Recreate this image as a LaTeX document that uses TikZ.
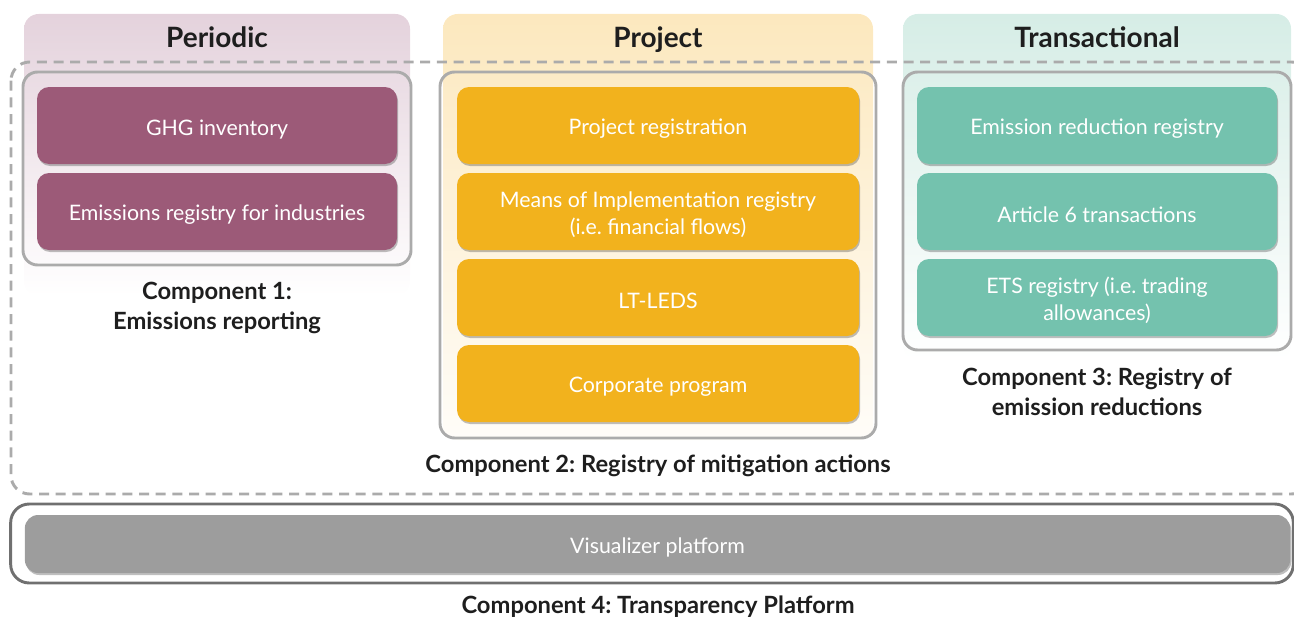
\documentclass[tikz,border=0pt]{standalone}
\usepackage{fontspec}
\setmainfont{Lato}
\frenchspacing
\usetikzlibrary{shadows}
\definecolor{plum}{HTML}{9C5A78}
\definecolor{amber}{HTML}{F2B21D}
\definecolor{teal}{HTML}{74C2AE}
\definecolor{vgray}{HTML}{9D9D9D}
\definecolor{pinkbg}{HTML}{E4D2DC}
\definecolor{yellowbg}{HTML}{FCE8BE}
\definecolor{tealbg}{HTML}{D6EDE6}
\definecolor{framegray}{HTML}{ABABAB}
\definecolor{darkframe}{HTML}{707070}
\definecolor{ink}{HTML}{1E1E1E}
\newcommand{\lowstrut}{\rule{0pt}{17pt}}
\tikzset{
  item/.style={draw=none, rounded corners=9pt, text=white, align=center,
    font=\fontsize{16}{20}\selectfont,
    drop shadow={shadow xshift=0.8pt, shadow yshift=-1.5pt, opacity=0.25, fill=black}},
  frame/.style={draw=framegray, line width=2.2pt, rounded corners=11pt, fill=none},
  comp/.style={text=ink, align=center, font=\fontsize{17.8}{22.5}\selectfont\bfseries},
  head/.style={text=ink, anchor=base, font=\fontsize{21}{24}\selectfont\bfseries},
}
\begin{document}
\begin{tikzpicture}[x=0.75pt,y=-0.75pt]
\useasboundingbox (0,0) rectangle (1294,617);
% header backgrounds
\shade[top color=pinkbg, bottom color=white, rounded corners=11pt]
  (24,14) rectangle (410,296);
\shade[top color=yellowbg, bottom color=yellowbg!10, rounded corners=11pt]
  (443,14) rectangle (873,440);
\shade[top color=tealbg, bottom color=white, rounded corners=11pt]
  (903,14) rectangle (1291,360);
\node[head] (hper) at (217,47.5) {Periodic};
\node[head] (hpro) at (658,47.5) {Project};
\node[head] (htra) at (1097,47.5) {Transactional};
% dashed outer region
\draw[framegray, line width=2.2pt, dash pattern=on 7.5pt off 5pt, rounded corners=14pt]
  (11,62) rectangle (1310,494);
% frames
\node[frame, minimum width=291pt, minimum height=144.75pt] (f1) at (217,168.5) {};
\node[frame, minimum width=327pt, minimum height=274.5pt] (f2) at (658,255) {};
\node[frame, minimum width=291pt, minimum height=208.5pt] (f3) at (1097,211) {};
\node[draw=darkframe, line width=2.2pt, rounded corners=14pt, minimum width=962pt, minimum height=59.25pt] (f4) at (652,543.5) {};
% component 1
\node[item, fill=plum, minimum width=270pt, minimum height=57.75pt] (ghg) at (217,125.5) {\lowstrut GHG inventory};
\node[item, fill=plum, minimum width=270pt, minimum height=57.75pt] (eri) at (217,211.5) {\lowstrut Emissions registry for industries};
% component 2
\node[item, fill=amber, minimum width=301.5pt, minimum height=57.75pt] (pr) at (658,125.5) {\lowstrut Project registration};
\node[item, fill=amber, minimum width=301.5pt, minimum height=57.75pt] (moi) at (658,211.5) {\lowstrut Means of Implementation registry\\(i.e. financial flows)};
\node[item, fill=amber, minimum width=301.5pt, minimum height=57.75pt] (lt) at (658,297.5) {\lowstrut LT-LEDS};
\node[item, fill=amber, minimum width=301.5pt, minimum height=57.75pt] (cp) at (658,383.5) {\lowstrut Corporate program};
% component 3
\node[item, fill=teal, minimum width=270pt, minimum height=57.75pt] (err) at (1097,125.5) {\lowstrut Emission reduction registry};
\node[item, fill=teal, minimum width=270pt, minimum height=57.75pt] (a6) at (1097,211.5) {\lowstrut Article 6 transactions};
\node[item, fill=teal, minimum width=270pt, minimum height=57.75pt] (ets) at (1097,297.5) {\lowstrut ETS registry (i.e. trading\\allowances)};
% component 4
\node[item, fill=vgray, rounded corners=10pt, minimum width=949pt, minimum height=43.5pt] (vis) at (657.5,544) {\lowstrut Visualizer platform};
% labels
\node[comp] (c1) at (217,308) {Component 1:\\Emissions reporting};
\node[comp] (c2) at (658,466) {Component 2: Registry of mitigation actions};
\node[comp] (c3) at (1097,391.5) {Component 3: Registry of\\emission reductions};
\node[comp] (c4) at (658,607) {Component 4: Transparency Platform};
\end{tikzpicture}
\end{document}
